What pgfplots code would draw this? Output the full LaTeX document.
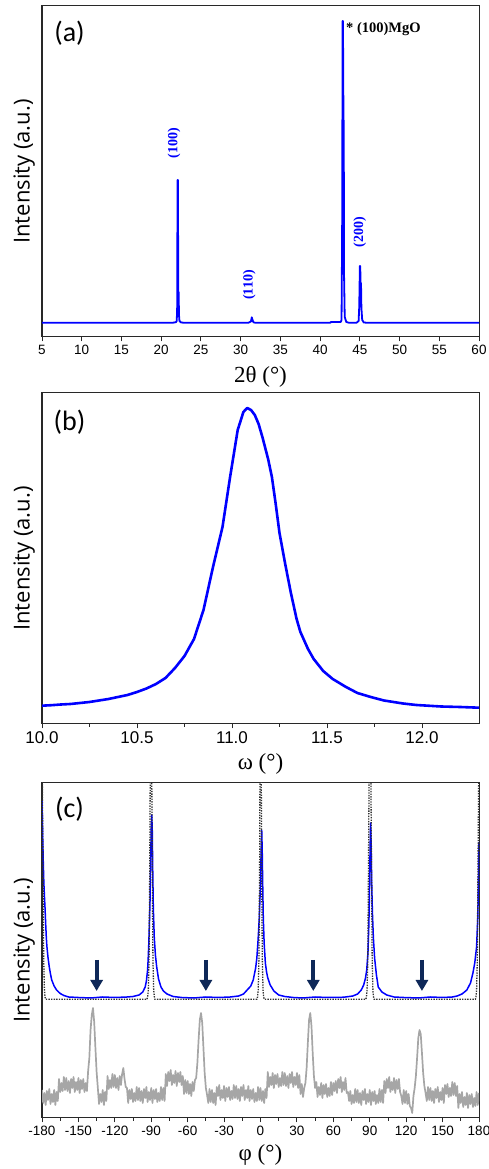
\documentclass[border=0pt]{standalone}
\usepackage{fontspec}
\usepackage{pgfplots}
\pgfplotsset{compat=1.18}
\usetikzlibrary{arrows.meta}
\newfontfamily\arial{Liberation Sans}
\newfontfamily\tnr{Liberation Serif}
\newfontfamily\calib{Carlito}
\newfontfamily\osans{Open Sans}
\definecolor{navy}{RGB}{14,40,88}
\definecolor{gr}{RGB}{166,166,166}
\definecolor{pblue}{RGB}{0,0,255}
\definecolor{frame}{RGB}{40,40,40}
\pgfplotsset{
  panel/.style={
    scale only axis, width=437pt,
    axis line style={frame, line width=1pt},
    ytick=\empty, xtick pos=bottom, xtick align=outside,
    major tick length=4.5pt, minor tick length=3pt,
    every tick/.style={frame, line width=0.9pt},
    /pgf/number format/assume math mode=true,
    xticklabel style={font=\arial\fontsize{13.5}{15}\selectfont},
    xlabel style={font=\tnr\fontsize{23}{25}\selectfont, at={(axis description cs:0.5,0)}, anchor=center, yshift=-40pt},
    ylabel style={font=\osans\fontsize{22}{24}\selectfont, at={(axis description cs:-0.041,0.5)}, anchor=center},
    ylabel={Intensity (a.u.)},
    clip mode=individual,
  },
}
\tikzset{
  plab/.style={font=\calib\fontsize{28}{30}\selectfont, anchor=center},
  hkl/.style={font=\tnr\bfseries\fontsize{14}{16}\selectfont, text=pblue, rotate=90, anchor=center},
}
\begin{document}
\begin{tikzpicture}
\useasboundingbox (0,0) rectangle (489pt,1169pt);
% ---------------- (a)
\begin{axis}[panel, at={(42pt,832pt)}, anchor=south west, height=331pt,
  xmin=5, xmax=60, ymin=0, ymax=331, xtick={5,10,...,60},
  xlabel={2θ (°)}]
\addplot[pblue, line width=1.8pt, line join=round] coordinates {
(5,14.3) (21.5,14.3) (21.85,14.8) (21.95,16) (22.0,24) (22.03,40) (22.05,157) (22.1,157)
(22.13,100) (22.16,45) (22.2,45) (22.24,22) (22.3,16) (22.5,14.5) (22.8,14.3)
(31.0,14.3) (31.3,15.5) (31.4,19.7) (31.5,17) (31.6,14.8) (31.8,14.3)
(41.3,14.3) (41.35,15) (42.6,15) (42.7,17) (42.77,100) (42.8,159) (42.82,316) (42.88,316)
(42.92,247) (42.98,200) (43.02,60) (43.1,20) (43.3,15) (43.6,14.3)
(44.6,14.3) (44.85,16) (44.92,29) (44.97,50) (45.0,71) (45.05,71) (45.1,54) (45.15,54)
(45.2,29) (45.3,17) (45.5,14.5) (45.8,14.3) (60,14.3)};
\node[plab] at (axis description cs:0.063,0.918) {(a)};
\node[hkl] at (axis cs:21.6,194) {(100)};
\node[hkl] at (axis cs:31.1,52) {(110)};
\node[hkl] at (axis cs:45.0,105) {(200)};
\node[font=\tnr\bfseries\fontsize{14.5}{16}\selectfont, anchor=west, inner sep=0pt] at (axis cs:43.26,308) {* (100)MgO};
\end{axis}
% ---------------- (b)
\begin{axis}[panel, at={(42pt,445pt)}, anchor=south west, height=331pt,
  xmin=10, xmax=12.3, ymin=0, ymax=331, xtick={10,10.5,...,12}, minor tick num=1,
  xticklabel style={font=\arial\fontsize{17}{19}\selectfont, /pgf/number format/.cd, fixed, fixed zerofill, precision=1},
  xlabel={ω (°)}]
\addplot[pblue, line width=2.6pt, line join=round] coordinates {
(10.00,18.3) (10.05,18.8) (10.10,19.5) (10.15,20.0) (10.20,21.0) (10.25,22.0) (10.30,23.5)
(10.35,25) (10.40,27) (10.45,29) (10.50,32) (10.55,35.5) (10.60,40) (10.65,46) (10.70,56)
(10.75,68) (10.80,85) (10.85,114) (10.90,157) (10.95,197) (10.99,247) (11.03,294) (11.06,312)
(11.08,316) (11.10,314) (11.12,309) (11.14,300) (11.16,287) (11.19,265) (11.21,247) (11.23,220)
(11.25,191) (11.28,160) (11.31,131) (11.34,105) (11.36,92) (11.40,75) (11.43,65) (11.48,53)
(11.53,45) (11.60,37) (11.66,31) (11.73,27) (11.80,23.5) (11.90,20.5) (11.97,19) (12.10,17.5)
(12.20,17) (12.30,16.3)};
\node[plab] at (axis description cs:0.063,0.912) {(b)};
\end{axis}
% ---------------- (c)
\begin{axis}[panel, at={(42pt,51pt)}, anchor=south west, height=335pt,
  xmin=-180, xmax=180, ymin=0, ymax=335, xtick={-180,-150,...,180}, minor tick num=1,
  xticklabels={-180,-150,-120,-90,-60,-30,0,30,60,90,120,150,180},
  xlabel={φ (°)}, xlabel style={yshift=3pt}]
% grey phi scan
\addplot[gr, line width=1.7pt, line join=round] coordinates {
(-180,28)(-179,15)(-178,25)(-177,13)(-176,27)(-175,18)(-174,29)(-173,14)(-172,24)(-171,16)
(-170,28)(-169,13)(-168,26)(-167,17)(-166,39)(-165,26)(-164,35)(-163,27)(-162,41)(-161,28)
(-160,40)(-159,27)(-158,37)(-157,25)(-156,39)(-155,30)(-154,41)(-153,26)(-152,36)(-151,28)
(-150,40)(-149,25)(-148,38)(-147,29)(-146,39)(-145,26)(-144,35)(-143,27)(-142,47)(-141,60)
(-140,88)(-139,103)(-138,110)(-137,96)(-136,70)(-135,46)(-134,30)(-133,14)(-132,24)(-131,16)
(-130,28)(-129,13)(-128,26)(-127,17)(-126,42)(-125,29)(-124,38)(-123,30)(-122,44)(-121,31)
(-120,43)(-119,30)(-118,40)(-117,28)(-116,42)(-115,33)(-114,44)(-113,50)(-112,39)(-111,31)
(-110,30)(-109,15)(-108,28)(-107,19)(-106,29)(-105,16)(-104,25)(-103,17)(-102,31)(-101,18)
(-100,30)(-99,17)(-98,27)(-97,15)(-96,29)(-95,20)(-94,31)(-93,16)(-92,26)(-91,18)
(-90,30)(-89,15)(-88,28)(-87,19)(-86,29)(-85,16)(-84,25)(-83,17)(-82,31)(-81,18)
(-80,30)(-79,17)(-78,44)(-77,32)(-76,46)(-75,37)(-74,48)(-73,33)(-72,43)(-71,35)
(-70,47)(-69,32)(-68,45)(-67,36)(-66,46)(-65,33)(-64,42)(-63,24)(-62,38)(-61,25)
(-60,37)(-59,24)(-58,34)(-57,22)(-56,36)(-55,27)(-54,38)(-53,40)(-52,55)(-51,78)
(-50,98)(-49,105)(-48,95)(-47,70)(-46,45)(-45,30)(-44,23)(-43,15)(-42,29)(-41,16)
(-40,28)(-39,15)(-38,25)(-37,13)(-36,31)(-35,22)(-34,33)(-33,18)(-32,28)(-31,20)
(-30,32)(-29,17)(-28,30)(-27,21)(-26,31)(-25,18)(-24,27)(-23,19)(-22,33)(-21,20)
(-20,32)(-19,19)(-18,29)(-17,17)(-16,31)(-15,22)(-14,33)(-13,18)(-12,28)(-11,20)
(-10,32)(-9,17)(-8,28)(-7,19)(-6,29)(-5,16)(-4,25)(-3,17)(-2,31)(-1,18)
(0,30)(1,17)(2,27)(3,15)(4,29)(5,20)(6,46)(7,31)(8,41)(9,33)
(10,45)(11,30)(12,43)(13,34)(14,44)(15,31)(16,40)(17,32)(18,46)(19,33)
(20,45)(21,32)(22,42)(23,30)(24,44)(25,35)(26,46)(27,31)(28,41)(29,33)
(30,45)(31,30)(32,43)(33,24)(34,34)(35,21)(36,30)(37,35)(38,50)(39,75)
(40,98)(41,105)(42,92)(43,65)(44,42)(45,30)(46,36)(47,21)(48,31)(49,23)
(50,35)(51,20)(52,33)(53,24)(54,34)(55,21)(56,30)(57,22)(58,36)(59,23)
(60,35)(61,27)(62,37)(63,25)(64,39)(65,30)(66,41)(67,26)(68,36)(69,28)
(70,40)(71,25)(72,26)(73,17)(74,27)(75,14)(76,23)(77,15)(78,29)(79,16)
(80,28)(81,15)(82,25)(83,13)(84,27)(85,18)(86,29)(87,14)(88,24)(89,16)
(90,28)(91,13)(92,26)(93,17)(94,27)(95,14)(96,23)(97,15)(98,29)(99,16)
(100,28)(101,15)(102,37)(103,25)(104,39)(105,30)(106,41)(107,26)(108,36)(109,28)
(110,40)(111,25)(112,38)(113,29)(114,39)(115,26)(116,22)(117,14)(118,28)(119,15)
(120,27)(121,14)(122,24)(123,12)(124,10)(125,5)(126,22)(127,30)(128,42)(129,60)
(130,80)(131,88)(132,84)(133,65)(134,45)(135,32)(136,25)(137,17)(138,31)(139,18)
(140,30)(141,17)(142,27)(143,15)(144,29)(145,20)(146,31)(147,16)(148,26)(149,18)
(150,30)(151,15)(152,33)(153,24)(154,34)(155,21)(156,30)(157,22)(158,36)(159,23)
(160,35)(161,22)(162,32)(163,10)(164,24)(165,15)(166,26)(167,11)(168,21)(169,13)
(170,25)(171,10)(172,23)(173,14)(174,24)(175,11)(176,20)(177,12)(178,26)(179,13)
(180,25)};
% blue phi scan
\addplot[pblue, line width=1.5pt, line join=round] coordinates {
(-180,318) (-179.5,285) (-179,258) (-178.5,236) (-178,222) (-177.5,210) (-177,195) (-176.5,182)
(-176,172) (-175,160) (-174,151) (-173,144) (-172,138) (-170,132) (-168,128) (-165,124.5)
(-162,122.5) (-158,121) (-150,120.5) (-140,120) (-130,121) (-120,120.5) (-110,121) (-105,121.5)
(-100,123) (-97,126) (-95,131) (-94,137) (-93,148) (-92.5,160) (-92,175) (-91.5,195) (-91,218)
(-90.5,255) (-90,290) (-89.6,303) (-89.2,290) (-88.8,250) (-88.3,210) (-87.5,180) (-86.5,162)
(-85.5,151) (-84,139) (-82,131) (-80,127) (-77,124) (-72,121.5) (-65,120.5) (-55,120) (-45,121)
(-35,120.5) (-25,121) (-18,122) (-14,124) (-11,128) (-8,132) (-6,138) (-4,150) (-3,160)
(-2,178) (-1,200) (0,235) (0.5,265) (1,288) (1.4,268) (1.8,235) (2.3,200) (3,175) (4,155)
(5,146) (6,140) (8,133) (11,127) (15,123) (20,121.5) (27,120.5) (35,120) (45,121) (55,120.5)
(65,120.5) (70,121) (76,122) (80,124) (83,128) (85,133) (86.5,140) (87.5,148) (88.5,165)
(89.3,195) (89.8,230) (90.3,270) (90.7,295) (91.1,275) (91.6,235) (92.2,205) (93,180) (94,160)
(95.5,143) (97,131) (100,126) (104,123) (110,121) (118,120.5) (130,120) (140,121) (150,120.5)
(158,121) (162,122) (166,124) (170,128) (173,135) (175,145) (176.5,155) (178,171) (179,200)
(179.5,235) (180,276)};
% dotted reference scan
\addplot[black!80, line width=1.3pt, dash pattern=on 1.4pt off 1.2pt] coordinates {
(-180,420) (-179.7,330) (-179.2,258) (-178.6,158) (-178,128) (-177.5,121) (-177,118.7)
(-93.5,118.7) (-93,121) (-92.4,128) (-91.8,158) (-91.2,258) (-90.5,420) (-90.2,600) (-89.9,420)
(-89.2,258) (-88.6,158) (-88,128) (-87.4,121) (-87,118.7)
(-3,118.7) (-2.4,121) (-1.9,128) (-1.3,158) (-0.7,258) (-0.2,420) (0.1,600) (0.4,420)
(0.9,258) (1.5,158) (2.1,128) (2.6,121) (3.1,118.7)
(86.8,118.7) (87.3,121) (87.8,128) (88.4,158) (89.0,258) (89.9,420) (90.2,600) (90.5,420)
(91.4,258) (92,158) (92.6,128) (93.1,121) (93.6,118.7)
(177,118.7) (177.5,121) (178,128) (178.6,158) (179.2,258) (179.7,330) (180,420)};
\foreach \p in {-135,-45,43.5,133}{
  \edef\tmp{\noexpand\draw[navy, line width=4pt, -{Triangle[width=12pt,length=11pt]}] (axis cs:\p,158) -- (axis cs:\p,127);}
  \tmp
}
\node[plab] at (axis description cs:0.063,0.922) {(c)};
\end{axis}
\end{tikzpicture}
\end{document}
